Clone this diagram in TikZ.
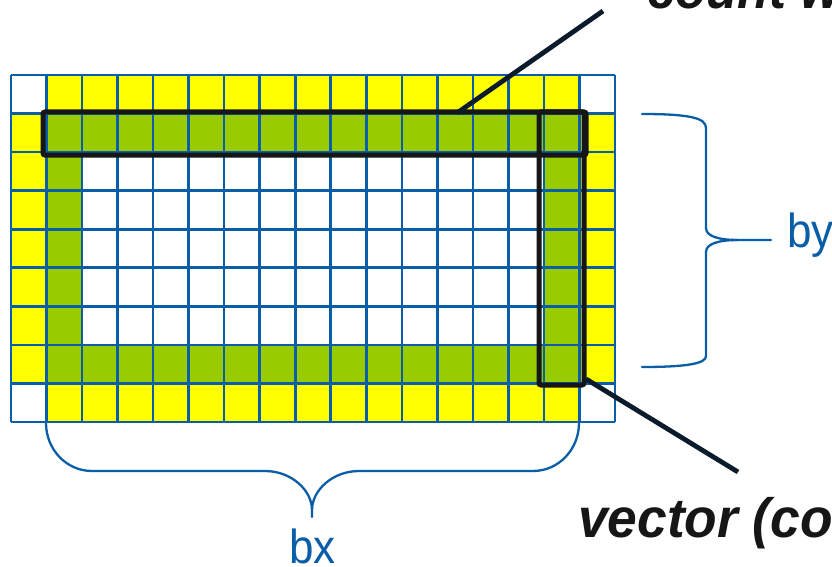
\documentclass[tikz,border=0pt]{standalone}
\usepackage{fontspec}
\setmainfont{Liberation Sans}
\definecolor{gridblue}{HTML}{0A5EA8}
\definecolor{yel}{HTML}{FFFF00}
\definecolor{grn}{HTML}{99CC00}
\definecolor{boxblack}{HTML}{161616}
\definecolor{leadnavy}{HTML}{0C1B2B}
\tikzset{
  gridline/.style={draw=gridblue, line width=2.6pt},
  blackbox/.style={draw=boxblack, line width=5pt, rounded corners=2pt, rectangle, inner sep=0pt, outer sep=0pt, fill=none},
  leader/.style={draw=leadnavy, line width=4.8pt},
  bracestyle/.style={draw=gridblue, line width=2.3pt, line cap=round},
  bluelabel/.style={text=gridblue, inner sep=0pt, font=\fontsize{44}{50}\selectfont},
  blacklabel/.style={text=boxblack, inner sep=0pt, font=\fontsize{51}{60}\selectfont\bfseries\itshape}
}
\begin{document}
\begin{tikzpicture}[x=1pt, y=-1pt]
\useasboundingbox (0,0) rectangle (832,567);
% cell fills
\fill[yel] (46.53,75) rectangle (579.47,422);
\fill[yel] (11,113.56) rectangle (615,383.44);
\fill[grn] (46.53,113.56) rectangle (579.47,383.44);
\fill[white] (82.06,152.11) rectangle (543.94,344.89);
% grid lines
\foreach \i in {0,...,17} \draw[gridline] ({11+35.53*\i},75) -- ({11+35.53*\i},422);
\foreach \j in {0,...,9} \draw[gridline] (11,{75+38.556*\j}) -- (615,{75+38.556*\j});
% black boxes
\node[blackbox, minimum width=543pt, minimum height=43pt] (rowbox) at (314.5,133.5) {};
\node[blackbox, minimum width=45pt, minimum height=273pt] (colbox) at (561.5,248.5) {};
% leader lines
\coordinate (rowpin) at (457,113);
\coordinate (rowend) at (603,11);
\coordinate (colpin) at (586,379);
\coordinate (colend) at (738,472);
\draw[leader] (rowpin) -- (rowend);
\draw[leader] (colpin) -- (colend);
% texts
\node[blacklabel, anchor=base west] (counttext) at (647,9) {\scalebox{1}[1.086]{count w}};
\node[blacklabel, anchor=base west] (vectortext) at (578,537) {\scalebox{1.045}[1.086]{vector (co}};
% bx brace
\draw[bracestyle] (46,423) .. controls (46,449) and (66,471) .. (92,471) -- (265,471)
  .. controls (291,471) and (312,490) .. (312,510) -- (312,517);
\draw[bracestyle] (312,510) .. controls (312,490) and (333,471) .. (359,471) -- (533,471)
  .. controls (559,471) and (579,449) .. (579,423);
\node[bluelabel, anchor=base] (bxtext) at (312.5,563) {\scalebox{1}[1.086]{bx}};
% by brace
\draw[bracestyle] (642,114) .. controls (690,114) and (706,118) .. (706,128) -- (706,228)
  .. controls (706,236) and (718,240) .. (738,240) -- (771,240);
\draw[bracestyle] (738,240) .. controls (718,240) and (706,244) .. (706,252) -- (706,356)
  .. controls (706,363) and (690,367) .. (642,367);
\node[bluelabel, anchor=base west] (bytext) at (787,247) {\scalebox{1}[1.086]{by}};
\end{tikzpicture}
\end{document}
